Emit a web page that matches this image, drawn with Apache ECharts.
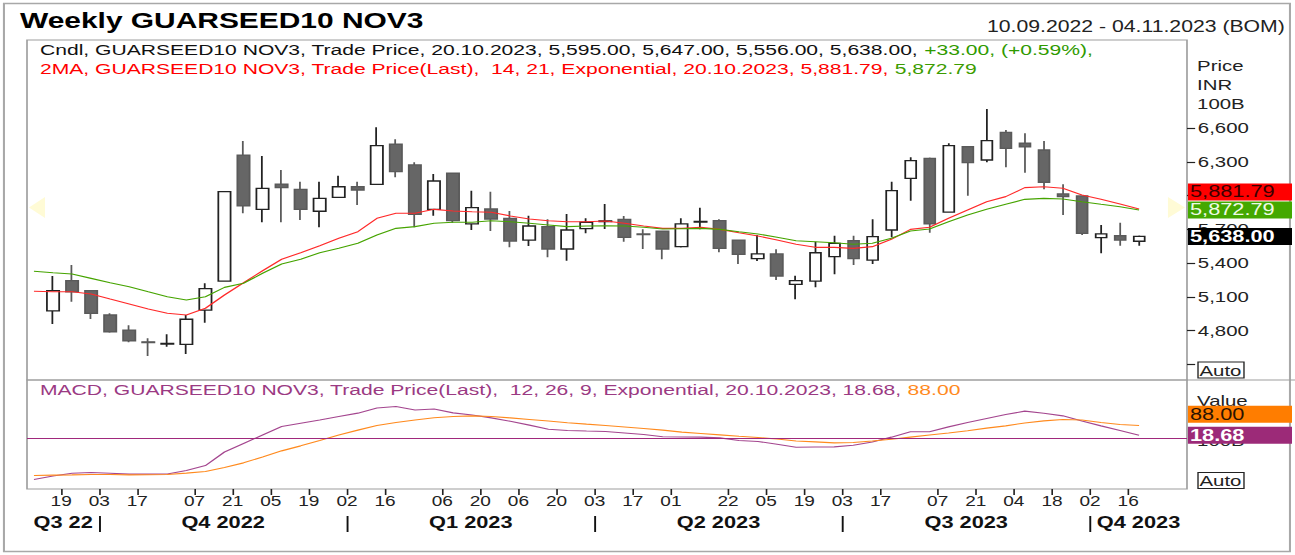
<!DOCTYPE html>
<html>
<head>
<meta charset="utf-8">
<title>Weekly GUARSEED10 NOV3</title>
<script src="https://cdn.jsdelivr.net/npm/echarts@6/dist/echarts.min.js"></script>
<style>
  html, body { margin: 0; padding: 0; background: #fff; overflow: hidden; }
  #wrap { width: 1295px; height: 555px; overflow: hidden; }
  /* the reference is a horizontally stretched picture, so the chart is drawn narrow and stretched */
  #chart { width: 952px; height: 555px; transform: scaleX(1.36029); transform-origin: 0 0; }
</style>
</head>
<body>
<div id="wrap"><div id="chart"></div></div>
<script>
// weekly candles, dated by week ending (Friday)
const weekEnding = [
  "2022-09-16", "2022-09-23", "2022-09-30", "2022-10-07", "2022-10-14", "2022-10-21", "2022-10-28",
  "2022-11-04", "2022-11-11", "2022-11-18", "2022-11-25", "2022-12-02", "2022-12-09", "2022-12-16",
  "2022-12-23", "2022-12-30", "2023-01-06", "2023-01-13", "2023-01-20", "2023-01-27", "2023-02-03",
  "2023-02-10", "2023-02-17", "2023-02-24", "2023-03-03", "2023-03-10", "2023-03-17", "2023-03-24",
  "2023-03-31", "2023-04-07", "2023-04-14", "2023-04-21", "2023-04-28", "2023-05-05", "2023-05-12",
  "2023-05-19", "2023-05-26", "2023-06-02", "2023-06-09", "2023-06-16", "2023-06-23", "2023-06-30",
  "2023-07-07", "2023-07-14", "2023-07-21", "2023-07-28", "2023-08-04", "2023-08-11", "2023-08-18",
  "2023-08-25", "2023-09-01", "2023-09-08", "2023-09-15", "2023-09-22", "2023-09-29", "2023-10-06",
  "2023-10-13", "2023-10-20"
];
const opens = [
  4975, 5244, 5155, 4939, 4805, 4700, 4680, 4678, 4983, 5241, 6362, 5879, 6104, 6057, 5862, 5986,
  6080, 6102, 6458, 6274, 5879, 6200, 5749, 5882, 5799, 5606, 5725, 5526, 5707, 5770, 5790, 5660,
  5686, 5547, 5765, 5778, 5606, 5440, 5482, 5212, 5241, 5458, 5600, 5428, 5695, 6155, 6333, 5855,
  6436, 6318, 6564, 6467, 6407, 6016, 5998, 5627, 5644, 5595
];
const highs = [
  5286, 5384, 5160, 4954, 4847, 4732, 4767, 4939, 5221, 6040, 6487, 6354, 6229, 6125, 6125, 6178,
  6125, 6609, 6502, 6298, 6193, 6205, 6045, 6036, 5864, 5822, 5790, 5838, 5799, 5926, 5820, 5701,
  5690, 5799, 5894, 5790, 5610, 5651, 5524, 5289, 5591, 5644, 5644, 5790, 6125, 6342, 6340, 6467,
  6440, 6772, 6585, 6556, 6487, 6102, 6000, 5740, 5760, 5647
];
const lows = [
  4859, 5057, 4903, 4781, 4696, 4574, 4657, 4592, 4870, 5235, 5844, 5764, 5764, 5784, 5719, 5980,
  5918, 6100, 6164, 5719, 5822, 5760, 5695, 5686, 5541, 5553, 5452, 5422, 5666, 5704, 5591, 5526,
  5435, 5540, 5701, 5497, 5393, 5419, 5250, 5079, 5185, 5301, 5384, 5393, 5630, 5956, 5671, 5850,
  6000, 6298, 6253, 6205, 6057, 5829, 5651, 5488, 5556, 5556
];
const closes = [
  5155, 5146, 4954, 4790, 4710, 4694, 4686, 4901, 5173, 6036, 5909, 6066, 6072, 5879, 5977, 6080,
  6051, 6445, 6214, 5835, 6131, 5778, 5894, 5793, 5597, 5731, 5526, 5695, 5764, 5776, 5630, 5655,
  5526, 5749, 5771, 5532, 5479, 5482, 5286, 5244, 5493, 5577, 5440, 5636, 6045, 6312, 5749, 6445,
  6294, 6490, 6422, 6436, 6120, 5992, 5666, 5660, 5606, 5638
];

// indicator lines start one week earlier (they run in from the left edge)
const priorWeek = "2022-09-09";
const ema14 = [
  5150, 5146, 5146, 5126, 5081, 5037, 4992, 4954, 4939, 4999, 5117, 5226, 5333, 5435, 5493, 5556,
  5621, 5680, 5799, 5844, 5844, 5879, 5864, 5858, 5853, 5820, 5793, 5778, 5769, 5769, 5775, 5755,
  5731, 5710, 5710, 5719, 5701, 5671, 5642, 5606, 5568, 5541, 5541, 5532, 5547, 5612, 5701, 5719,
  5799, 5873, 5947, 5992, 6072, 6080, 6066, 6007, 5968, 5926, 5881.79
];
const ema21 = [
  5328, 5315, 5304, 5265, 5226, 5191, 5146, 5102, 5072, 5102, 5185, 5221, 5310, 5393, 5435, 5493,
  5532, 5577, 5651, 5710, 5725, 5755, 5764, 5764, 5778, 5769, 5755, 5740, 5725, 5731, 5733, 5731,
  5719, 5704, 5707, 5710, 5701, 5680, 5660, 5630, 5600, 5591, 5582, 5568, 5577, 5621, 5686, 5704,
  5769, 5829, 5879, 5924, 5968, 5977, 5971, 5947, 5924, 5902, 5872.79
];
const macdLine = [
  -290, -266, -247, -242, -247, -253, -253, -252, -227, -193, -98, -38, 21, 80, 103, 126,
  150, 174, 210, 220, 196, 203, 176, 161, 141, 117, 90, 61, 53, 49, 46, 35,
  24, 9, 7, 6, 1, -17, -24, -44, -65, -63, -62, -51, -28, 6, 44, 44,
  78, 108, 136, 164, 188, 173, 155, 119, 85, 53, 18.68
];
const signalLine = [
  -262, -260, -258, -255, -256, -258, -257, -255, -246, -235, -207, -174, -133, -90, -55, -18,
  21, 55, 87, 108, 126, 142, 151, 155, 151, 141, 130, 119, 107, 97, 88, 77,
  66, 55, 41, 32, 22, 12, 3, -7, -21, -27, -34, -32, -21, -9, 6, 21,
  35, 51, 69, 85, 105, 120, 130, 126, 109, 94, 88
];

// axis labels
const tickDates = [
  "2022-09-19", "2022-10-03", "2022-10-17", "2022-11-07", "2022-11-21", "2022-12-05", "2022-12-19",
  "2023-01-02", "2023-01-16", "2023-02-06", "2023-02-20", "2023-03-06", "2023-03-20", "2023-04-03",
  "2023-04-17", "2023-05-01", "2023-05-22", "2023-06-05", "2023-06-19", "2023-07-03", "2023-07-17",
  "2023-08-07", "2023-08-21", "2023-09-04", "2023-09-18", "2023-10-02", "2023-10-16"
];
const quarterStarts = ["2022-10-03", "2023-01-02", "2023-04-03", "2023-07-03", "2023-10-02"];
const quarterNames = ["Q3 22", "Q4 2022", "Q1 2023", "Q2 2023", "Q3 2023", "Q4 2023"];
const priceTicks = [4500, 4800, 5100, 5400, 5700, 6000, 6300, 6600];
// 6,000 sits fully under the value tags in the reference, so it gets no label
const priceLabels = [4800, 5100, 5400, 5700, 6300, 6600];
const cursorPrice = 5895;

const FONT = "Liberation Sans, Arial, sans-serif";
const ORIGIN = Date.UTC(2022, 8, 12);
function day(s) {
  const p = s.split("-").map(Number);
  return (Date.UTC(p[0], p[1] - 1, p[2]) - ORIGIN) / 86400000;
}
const X_MIN = -5.55, X_MAX = 420.6;

const candleDays = weekEnding.map(day);
const lineDays = [day(priorWeek)].concat(candleDays);
const tickDays = tickDates.map(day);
const dayLabel = {};
tickDates.forEach((s) => { dayLabel[day(s)] = s.slice(8); });
const qBounds = [X_MIN].concat(quarterStarts.map(day), [X_MAX]);
const quarterMid = quarterNames.map((n, i) => (qBounds[i] + qBounds[i + 1]) / 2);

const fmt = (v, d) => v.toLocaleString("en-US", { minimumFractionDigits: d, maximumFractionDigits: d });

var myChart = echarts.init(document.getElementById("chart"), null, { renderer: "svg" });

let option = {
  animation: false,
  textStyle: { fontFamily: FONT },
  title: [
    {
      text: "Weekly GUARSEED10 NOV3", left: 14.7, top: 7, padding: 0,
      textStyle: { fontFamily: FONT, fontSize: 22, fontWeight: "bold", color: "#000", lineHeight: 26 },
    },
    {
      text: "10.09.2022 - 04.11.2023 (BOM)", right: 7.4, top: 18, padding: 0,
      textStyle: { fontFamily: FONT, fontSize: 15.6, fontWeight: "normal", color: "#222", lineHeight: 18 },
    },
    {
      text: "{k|Cndl, GUARSEED10 NOV3, Trade Price, 20.10.2023, 5,595.00, 5,647.00, 5,556.00, 5,638.00, }{g|+33.00, (+0.59%),}",
      left: 29.4, top: 41, padding: 0,
      textStyle: {
        rich: {
          k: { fontFamily: FONT, fontSize: 15.5, fontWeight: "normal", color: "#111", lineHeight: 18 },
          g: { fontFamily: FONT, fontSize: 15.5, fontWeight: "normal", color: "#2f9a00", lineHeight: 18 },
        },
      },
    },
    {
      text: "{r|2MA, GUARSEED10 NOV3, Trade Price(Last),  14, 21, Exponential, 20.10.2023, 5,881.79, }{g|5,872.79}",
      left: 29.4, top: 60, padding: 0,
      textStyle: {
        rich: {
          r: { fontFamily: FONT, fontSize: 15.5, fontWeight: "normal", color: "#ff0000", lineHeight: 18 },
          g: { fontFamily: FONT, fontSize: 15.5, fontWeight: "normal", color: "#3c9c00", lineHeight: 18 },
        },
      },
    },
    {
      text: "{p|MACD, GUARSEED10 NOV3, Trade Price(Last),  12, 26, 9, Exponential, 20.10.2023, 18.68, }{o|88.00}",
      left: 29.4, top: 381, padding: 0,
      textStyle: {
        rich: {
          p: { fontFamily: FONT, fontSize: 15.5, fontWeight: "normal", color: "#9b3a83", lineHeight: 18 },
          o: { fontFamily: FONT, fontSize: 15.5, fontWeight: "normal", color: "#ff8a1e", lineHeight: 18 },
        },
      },
    },
  ],
  grid: [
    { left: 19.85, top: 40, width: 852.75, height: 340, show: true, borderColor: "#9d9d9d", borderWidth: 1.2, outerBoundsMode: "none" },
    { left: 19.85, top: 380, width: 852.75, height: 109, show: true, borderColor: "#9d9d9d", borderWidth: 1.2, outerBoundsMode: "none" },
  ],
  xAxis: [
    { gridIndex: 0, type: "value", min: X_MIN, max: X_MAX, show: false, axisLine: { onZero: false }, splitLine: { show: false } },
    {
      gridIndex: 1, type: "value", min: X_MIN, max: X_MAX, position: "bottom",
      axisLine: { show: false, onZero: false },
      splitLine: { show: false },
      axisTick: { show: true, length: 6, customValues: tickDays, lineStyle: { color: "#222", width: 1.2 } },
      axisLabel: {
        customValues: tickDays, margin: 5, fontSize: 14, color: "#222", fontFamily: FONT,
        formatter: (v) => dayLabel[Math.round(v)] || "",
      },
    },
    {
      gridIndex: 1, type: "value", min: X_MIN, max: X_MAX, position: "bottom", offset: 27,
      axisLine: { show: false, onZero: false },
      splitLine: { show: false },
      axisTick: { show: true, length: 16, customValues: quarterStarts.map(day), lineStyle: { color: "#111", width: 1.4 } },
      axisLabel: {
        customValues: quarterMid, margin: -1, fontSize: 16, fontWeight: "bold", color: "#111", fontFamily: FONT,
        formatter: (v) => {
          const i = quarterMid.findIndex((m) => Math.abs(m - v) < 0.01);
          return i >= 0 ? quarterNames[i] : "";
        },
      },
    },
  ],
  yAxis: [
    {
      gridIndex: 0, type: "value", position: "right", min: 4360.7, max: 7385.6,
      axisLine: { show: false, onZero: false },
      splitLine: { show: false },
      axisTick: { show: true, length: 6, customValues: priceTicks, lineStyle: { color: "#222", width: 1.2 } },
      axisLabel: {
        customValues: priceLabels, margin: 8, fontSize: 15, color: "#222", fontFamily: FONT,
        formatter: (v) => fmt(v, 0),
      },
    },
    {
      gridIndex: 1, type: "value", position: "right", min: -357, max: 406, show: false,
      axisLine: { onZero: false }, splitLine: { show: false },
    },
  ],
  series: [
    {
      name: "Cndl", type: "candlestick", xAxisIndex: 0, yAxisIndex: 0, silent: true,
      data: candleDays.map((d, i) => [d, opens[i], closes[i], lows[i], highs[i]]),
      encode: { x: 0, y: [1, 2, 3, 4] },
      barWidth: 9,
      itemStyle: { color: "#ffffff", color0: "#666666", borderColor: "#222222", borderColor0: "#5a5a5a", borderWidth: 1.3 },
    },
    {
      name: "EMA14", type: "line", xAxisIndex: 0, yAxisIndex: 0, silent: true, symbol: "none",
      data: lineDays.map((d, i) => [d, ema14[i]]),
      lineStyle: { color: "#ff2a2a", width: 1.1 },
    },
    {
      name: "EMA21", type: "line", xAxisIndex: 0, yAxisIndex: 0, silent: true, symbol: "none",
      data: lineDays.map((d, i) => [d, ema21[i]]),
      lineStyle: { color: "#46a400", width: 1.1 },
    },
    {
      name: "MACD", type: "line", xAxisIndex: 1, yAxisIndex: 1, silent: true, symbol: "none",
      data: lineDays.map((d, i) => [d, macdLine[i]]),
      lineStyle: { color: "#a4468f", width: 1.1 },
      markLine: {
        silent: true, animation: false, symbol: ["none", "none"],
        label: { show: false },
        lineStyle: { color: "#a0287c", width: 1, type: "solid" },
        data: [{ yAxis: 0 }],
      },
    },
    {
      name: "Signal", type: "line", xAxisIndex: 1, yAxisIndex: 1, silent: true, symbol: "none",
      data: lineDays.map((d, i) => [d, signalLine[i]]),
      lineStyle: { color: "#ff8a1e", width: 1.1 },
    },
  ],
};
myChart.setOption(option);

// value tags on the right, pushed apart when they overlap
const TAG_X = 873.3, TAG_W = 76.5, TAG_H = 17;
function tag(yc, text, bg, fg, bold) {
  return {
    type: "group", z: 100,
    children: [
      { type: "rect", z: 100, shape: { x: TAG_X, y: yc - TAG_H / 2, width: TAG_W, height: TAG_H }, style: { fill: bg } },
      {
        type: "text", z: 101, x: TAG_X + 1.5, y: yc,
        style: {
          text: text, fill: fg, fontSize: 16, fontFamily: FONT, fontWeight: bold ? "bold" : "normal",
          align: "left", verticalAlign: "middle", textAlign: "left", textVerticalAlign: "middle",
        },
      },
    ],
  };
}
function sideText(x, y, text, z) {
  return {
    type: "text", z: z || 50, x: x, y: y,
    style: {
      text: text, fill: "#222", fontSize: 15, fontFamily: FONT,
      align: "left", verticalAlign: "middle", textAlign: "left", textVerticalAlign: "middle",
    },
  };
}
function autoBox(y) {
  return {
    type: "group", z: 60,
    children: [
      { type: "rect", z: 60, shape: { x: 880.7, y: y, width: 33.8, height: 16 }, style: { fill: "#fff", stroke: "#222", lineWidth: 1 } },
      sideText(881.8, y + 8.5, "Auto", 61),
    ],
  };
}

const py = (v) => myChart.convertToPixel({ yAxisIndex: 0 }, v);
const my = (v) => myChart.convertToPixel({ yAxisIndex: 1 }, v);

const yClose = py(closes[closes.length - 1]);
const yGreen = Math.min(py(ema21[ema21.length - 1]), yClose - TAG_H - 1);
const yRed = Math.min(py(ema14[ema14.length - 1]), yGreen - TAG_H - 1);
const yMacd = my(macdLine[macdLine.length - 1]);
const ySig = Math.min(my(signalLine[signalLine.length - 1]), yMacd - TAG_H - 4);
const yCur = py(cursorPrice);

myChart.setOption({
  graphic: [
    { type: "rect", z: 1, shape: { x: 2.9, y: 3.5, width: 945.4, height: 548 }, style: { fill: "none", stroke: "#a8a8a8", lineWidth: 1.5 } },
    { type: "line", z: 1, shape: { x1: 872.6, y1: 380, x2: 952, y2: 380 }, style: { stroke: "#9d9d9d", lineWidth: 1.2 } },
    { type: "polygon", z: 5, shape: { points: [[21.3, yCur], [33.1, yCur - 10.5], [33.1, yCur + 10.5]] }, style: { fill: "#fffbd6" } },
    { type: "polygon", z: 5, shape: { points: [[871.1, yCur], [858.6, yCur - 10.5], [858.6, yCur + 10.5]] }, style: { fill: "#fffbd6" } },
    sideText(880, 66, "Price"),
    sideText(880, 85, "INR"),
    sideText(880, 104, "100B"),
    sideText(880, 401, "Value"),
    sideText(880, 441, "100B"),
    autoBox(362),
    autoBox(472.5),
    tag(yRed, fmt(ema14[ema14.length - 1], 2), "#ff0000", "#3a0000", false),
    tag(yGreen, fmt(ema21[ema21.length - 1], 2), "#44a800", "#eefbe6", false),
    tag(yClose, fmt(closes[closes.length - 1], 2), "#000000", "#ffffff", true),
    tag(ySig, fmt(signalLine[signalLine.length - 1], 2), "#ff7d00", "#2a1200", false),
    tag(yMacd, fmt(macdLine[macdLine.length - 1], 2), "#9c2a78", "#ffffff", true),
  ],
});
</script>
</body>
</html>
